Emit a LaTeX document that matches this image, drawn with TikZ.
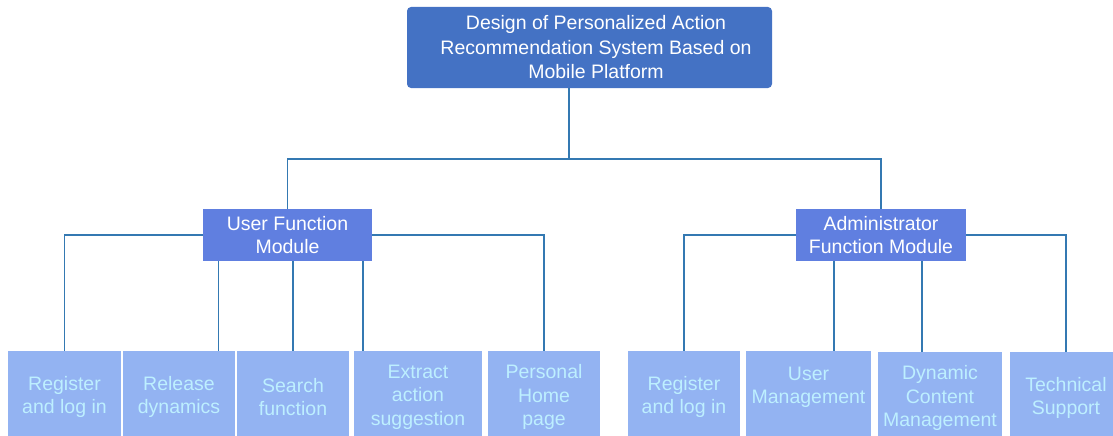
\documentclass[tikz,border=0pt]{standalone}
\usepackage{fontspec}
\setmainfont{Liberation Sans}
\definecolor{rootblue}{HTML}{4472C4}
\definecolor{modblue}{HTML}{607FE0}
\definecolor{cellblue}{HTML}{93B3F2}
\definecolor{celltext}{HTML}{BDEFFF}
\definecolor{linkblue}{HTML}{3479B2}
\begin{document}
\begin{tikzpicture}[x=1pt,y=-1pt,
  every node/.style={inner sep=0pt, outer sep=0pt, font=\fontsize{19.5}{23.5}\selectfont, align=center},
  rootbox/.style={fill=rootblue, rounded corners=4pt, minimum width=365pt, minimum height=81pt},
  roottext/.style={text=white, font=\fontsize{19.5}{24.5}\selectfont},
  modbox/.style={fill=modblue, text=white, minimum height=52pt},
  cell/.style={fill=cellblue, text=celltext, minimum height=92pt},
  link/.style={draw=linkblue, line width=1.2pt}]
\useasboundingbox (0,0) rectangle (1113,436);
% root
\node[rootbox] (root) at (589.5,47.5) {};
\node[roottext] (title) at (596,47.5) {Design of Personalized Action\\Recommendation System Based on\\Mobile Platform};
% modules
\node[modbox, minimum width=169pt] (um) at (287.5,235) {User Function\\Module};
\node[modbox, minimum width=170pt] (am) at (881,235) {Administrator\\Function Module};
% user children
\node[cell, minimum width=113pt] (u1) at (64.5,397) {Register\\and log in};
\node[cell, minimum width=112pt] (u2) at (179,397) {Release\\dynamics};
\node[cell, minimum width=112pt] (u3) at (293,397) {Search\\function};
\node[cell, minimum width=128pt] (u4) at (418,397) {Extract\\action\\suggestion};
\node[cell, minimum width=112pt] (u5) at (544,397) {Personal\\Home\\page};
% admin children
\node[cell, minimum width=112pt] (a1) at (684,397) {Register\\and log in};
\node[cell, minimum width=125pt] (a2) at (808.5,397) {User\\Management\\\mbox{}};
\node[cell, minimum width=124pt] (a3) at (940,398) {Dynamic\\Content\\Management};
\node[cell, minimum width=112pt] (a4) at (1066,398) {Technical\\Support};
% connector helpers
\coordinate (rs) at (569,88);
\coordinate (bus) at (569,159);
\coordinate (ux2) at (218.5,0);
\coordinate (ux3) at (293,0);
\coordinate (ux4) at (363,0);
\coordinate (ax2) at (834,0);
\coordinate (ax3) at (922,0);
% connectors
\draw[link] (rs) -- (bus);
\draw[link] (um.north) |- (bus) -| (am.north);
\draw[link] (um.west) -| (u1.north);
\draw[link] (um.east) -| (u5.north);
\draw[link] (um.south -| ux2) -- (u2.north -| ux2);
\draw[link] (um.south -| ux3) -- (u3.north -| ux3);
\draw[link] (um.south -| ux4) -- (u4.north -| ux4);
\draw[link] (am.west) -| (a1.north);
\draw[link] (am.east) -| (a4.north);
\draw[link] (am.south -| ax2) -- (a2.north -| ax2);
\draw[link] (am.south -| ax3) -- (a3.north -| ax3);
\end{tikzpicture}
\end{document}
